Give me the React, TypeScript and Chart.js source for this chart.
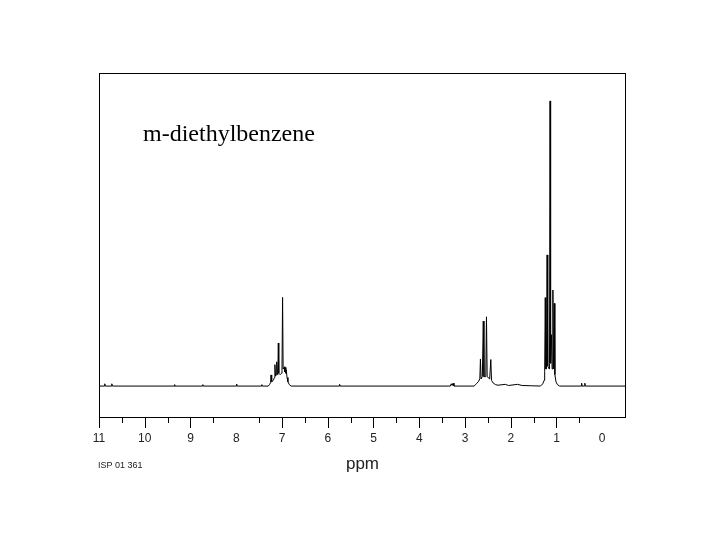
import React, { useEffect, useRef } from "react";
import { Chart, registerables } from "chart.js";

Chart.register(...registerables);

// Chemical shift (ppm) and relative intensity of the trace
const ppmValues: number[] = [
  11.0, 10.89, 10.875, 10.86, 10.735, 10.72, 10.705,
  9.36, 9.35, 9.34, 8.74, 8.73, 8.72, 8.0, 7.99, 7.98, 7.45, 7.44, 7.43,
  7.30, 7.27, 7.25, 7.24, 7.225, 7.19, 7.165, 7.155, 7.14, 7.125, 7.115, 7.10, 7.09, 7.08, 7.07,
  7.04, 7.01, 7.0, 6.987, 6.975, 6.955, 6.945, 6.935, 6.925, 6.915, 6.905, 6.89, 6.87, 6.84, 6.80,
  5.75, 5.74, 5.73,
  3.32, 3.30, 3.28, 3.26, 3.24,
  2.80, 2.75, 2.71, 2.675, 2.662, 2.648, 2.62, 2.60, 2.585, 2.545, 2.53, 2.515, 2.46, 2.435, 2.42,
  2.38, 2.33, 2.28, 2.12, 2.05, 1.95, 1.85, 1.75, 1.55,
  1.35, 1.30, 1.27, 1.258, 1.245, 1.232, 1.218, 1.205, 1.19, 1.16, 1.152, 1.14, 1.128, 1.11, 1.095,
  1.078, 1.065, 1.048, 1.035, 1.01, 0.98, 0.93,
  0.46, 0.45, 0.44, 0.39, 0.38, 0.37, -0.52,
];
const intensityValues: number[] = [
  0, 0, 0.8, 0, 0, 0.8, 0,
  0, 0.5, 0, 0, 0.5, 0, 0, 0.7, 0, 0, 0.5, 0,
  0, 0.6, 1.2, 3.9, 1.5, 2, 3, 7.5, 3.5, 4, 8.5, 4, 4.5, 15.1, 4.5,
  4, 4.5, 5.5, 31.1, 6, 6.5, 6.8, 5, 6.5, 4.5, 5.5, 3, 1.5, 0.5, 0,
  0, 0.6, 0,
  0, 0.8, 0.2, 1.0, 0,
  0, 0.8, 1.5, 2.5, 9.5, 2.5, 3.3, 22.8, 3.3, 3.3, 24.3, 3.3, 2.5, 9.3, 2,
  1, 0.5, 0.3, 0.6, 0.2, 0.4, 0.6, 0.2, 0.1,
  0, 0.8, 2, 5, 31, 6, 6, 46, 7, 6, 8, 100, 8, 18, 6,
  33.7, 6, 29, 4, 1.5, 0.5, 0,
  0, 1.0, 0, 0, 1.0, 0, 0,
];

// Axis ticks
const tickStep = 0.5;
const unmarkedTicks: number[] = [8, 0, -0.5];
const compoundName = "m-diethylbenzene";
const axisTitle = "ppm";
const footerCode = "ISP 01 361";

const decorPlugin = {
  id: "decor",
  afterDraw(chart: any) {
    const { ctx, chartArea: a } = chart;
    const x = chart.scales.x;
    ctx.save();
    ctx.strokeStyle = "#000";
    ctx.lineWidth = 1;
    ctx.strokeRect(a.left + 0.5, a.top + 0.5, a.right - a.left - 1, a.bottom - a.top - 1);
    ctx.beginPath();
    for (const t of x.ticks) {
      if (unmarkedTicks.includes(t.value)) continue;
      const px = Math.round(x.getPixelForValue(t.value)) + 0.5;
      const len = Number.isInteger(t.value) ? 10 : 5;
      ctx.moveTo(px, a.bottom);
      ctx.lineTo(px, a.bottom + len);
    }
    ctx.stroke();
    ctx.fillStyle = "#000";
    ctx.font = '24px "Liberation Serif"';
    ctx.textBaseline = "alphabetic";
    ctx.textAlign = "left";
    ctx.fillText(compoundName, a.left + 44, a.top + 68);
    ctx.fillStyle = "#222";
    ctx.font = '9px "Liberation Sans"';
    ctx.textBaseline = "middle";
    ctx.fillText(footerCode, a.left - 1, 466);
    ctx.restore();
  },
};

export default function App() {
  const canvasRef = useRef<HTMLCanvasElement | null>(null);

  useEffect(() => {
    if (!canvasRef.current) return;
    const points = ppmValues.map((p, i) => ({ x: p, y: intensityValues[i] }));
    const chart = new Chart(canvasRef.current, {
      type: "line",
      data: {
        datasets: [
          {
            data: points,
            borderColor: "#000",
            borderWidth: 1,
            pointRadius: 0,
            tension: 0,
            fill: false,
          },
        ],
      },
      options: {
        animation: false,
        responsive: true,
        maintainAspectRatio: false,
        parsing: true,
        layout: { padding: { left: 99, right: 94, top: 73, bottom: 0 } },
        plugins: { legend: { display: false }, tooltip: { enabled: false } },
        scales: {
          x: {
            type: "linear",
            reverse: true,
            min: -0.52,
            max: 11,
            afterFit: (scale: any) => {
              scale.height = 122;
            },
            border: { display: false },
            grid: {
              drawOnChartArea: false,
              drawTicks: true,
              tickLength: 10,
              tickColor: "transparent",
            },
            ticks: {
              stepSize: tickStep,
              includeBounds: false,
              autoSkip: false,
              maxRotation: 0,
              padding: 3,
              color: "#222",
              font: { family: "Liberation Sans", size: 12 },
              callback: (v: any) => {
                const n = Number(v);
                return Number.isInteger(n) && n >= 0 ? String(n) : "";
              },
            },
            title: {
              display: true,
              text: axisTitle,
              color: "#222",
              font: { family: "Liberation Sans", size: 17 },
              padding: { top: 0, bottom: 65 },
            },
          },
          y: {
            display: false,
            min: -11.2,
            max: 109.8,
          },
        },
      },
      plugins: [decorPlugin],
    });
    return () => chart.destroy();
  }, []);

  return (
    <div style={{ position: "fixed", left: 0, top: 0, width: 720, height: 540, background: "#fff" }}>
      <canvas ref={canvasRef} />
    </div>
  );
}
